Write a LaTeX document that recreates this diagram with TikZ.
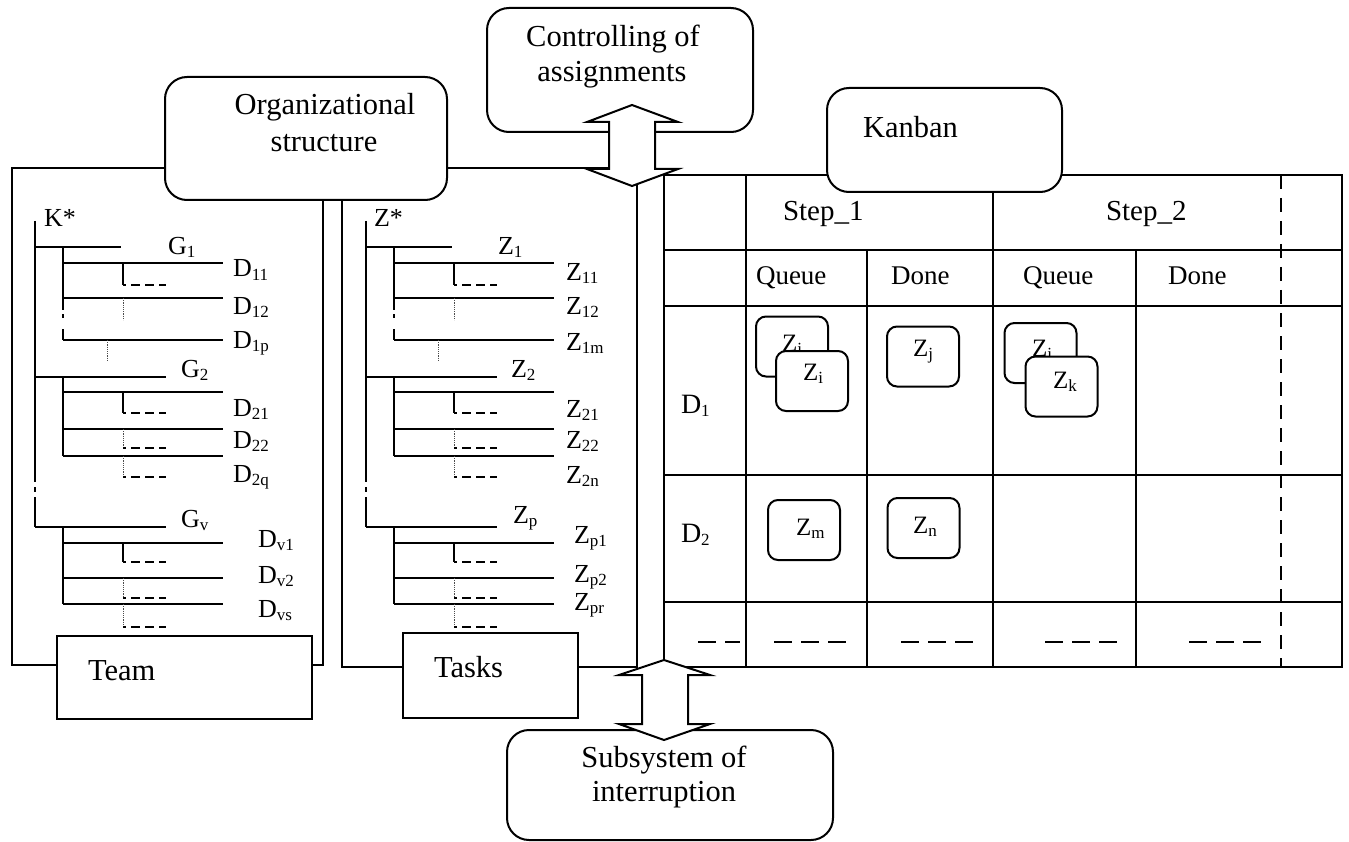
\documentclass[tikz,border=0pt]{standalone}
\usepackage{fontspec}
\setmainfont{Liberation Serif}
\newcommand\fs[1]{\fontsize{#1}{#1}\selectfont}
% subscript used in all labels
\newcommand\sbs[1]{\raisebox{-3pt}{\fontsize{17}{17}\selectfont #1}}
% one hierarchy (team or task tree), shifted horizontally by #1
\newcommand\hiertree[1]{%
\begin{scope}[xshift=#1pt]
  % trunk with an elided stretch
  \draw (35,221) -- (35,482) (35,487) -- (35,492) (35,497) -- (35,527);
  % first-level branches
  \draw (35,247) -- (121,247) (35,377) -- (166,377) (35,527) -- (166,527);
  % group 1
  \draw (63,247) -- (63,310) (63,314) -- (63,318) (63,329) -- (63,340);
  \draw (63,263) -- (223,263) (63,298) -- (223,298) (63,340) -- (223,340);
  \draw (123,263) -- (123,285);
  \draw[elb] (123,285) -- (166,285);
  \draw[dotv] (123,298) -- (123,320);
  \draw[dotv] (107,340) -- (107,360);
  % group 2
  \draw (63,377) -- (63,456);
  \draw (63,392) -- (223,392) (63,429) -- (223,429) (63,456) -- (223,456);
  \draw (123,392) -- (123,413);
  \draw[elb] (123,413) -- (166,413);
  \draw[dotv] (123,429) -- (123,448);
  \draw[elb] (123,448) -- (166,448);
  \draw[dotv] (123,456) -- (123,477);
  \draw[elb] (123,477) -- (166,477);
  % last group
  \draw (63,527) -- (63,604);
  \draw (63,543) -- (223,543) (63,578) -- (223,578) (63,604) -- (223,604);
  \draw (123,543) -- (123,562);
  \draw[elb] (123,562) -- (166,562);
  \draw[dotv] (123,578) -- (123,598);
  \draw[elb] (123,598) -- (166,598);
  \draw[dotv] (123,604) -- (123,627);
  \draw[elb] (123,627) -- (166,627);
\end{scope}}

\begin{document}
\begin{tikzpicture}[x=1pt,y=-1pt,line width=2pt,
  rbox/.style={draw,fill=white,rounded corners=22pt,inner sep=0pt},
  pbox/.style={draw,fill=white,inner sep=0pt},
  card/.style={draw,fill=white,rounded corners=10pt,minimum width=72pt,minimum height=60pt,inner sep=0pt},
  elb/.style={dash pattern=on 3pt off 5pt on 9pt off 5pt on 9pt off 5pt on 10pt},
  dotv/.style={line width=0.9pt,gray!60!black,dash pattern=on 1.2pt off 1pt},
  rowdash/.style={dash pattern=on 18pt off 9pt},
  big/.style={inner sep=0pt,anchor=base,font=\fs{30.5}},
  lbl/.style={inner sep=0pt,anchor=base west,font=\fs{26}},
  cardlbl/.style={inner sep=0pt,anchor=base west,font=\fs{25}},
  head/.style={inner sep=0pt,anchor=base west,font=\fs{29}},
  col/.style={inner sep=0pt,anchor=base west,font=\fs{27}},
  dbig/.style={inner sep=0pt,anchor=base west,font=\fs{28}}]
\useasboundingbox (0,0) rectangle (1349,842);

% frames of the two hierarchies
\draw (12,168) rectangle (323,665);
\draw (342,168) rectangle (637,667);

% Kanban board
\draw (664,175) rectangle (1342,667);
\foreach \yy in {250,306,475,602} \draw (664,\yy) -- (1342,\yy);
\draw (746,175) -- (746,667) (993,175) -- (993,667)
      (867,250) -- (867,667) (1136,250) -- (1136,667);
\draw[line width=1.4pt,dash pattern=on 14pt off 9pt] (1281,175) -- (1281,667);
\draw[rowdash] (698,642) -- (740,642);
\draw[rowdash] (774,642) -- (850,642);
\draw[rowdash,line width=2.6pt] (901,642) -- (977,642);
\draw[rowdash] (1045,642) -- (1120,642);
\draw[rowdash] (1189,642) -- (1265,642);

% trees
\hiertree{0}
\hiertree{331}

% boxes
\node[rbox,minimum width=282pt,minimum height=123pt] (org) at (306,138.5) {};
\node[pbox,minimum width=255pt,minimum height=83pt] (team) at (184.5,677.5) {};
\node[pbox,minimum width=175pt,minimum height=85pt] (tasks) at (490.5,675.5) {};
\node[rbox,minimum width=235pt,minimum height=104pt] (kanban) at (944.5,140) {};
\node[rbox,minimum width=266pt,minimum height=124pt] (ctrl) at (620,70) {};
\node[rbox,minimum width=326pt,minimum height=110pt] (subsys) at (670,785) {};

% two-way arrows
\draw[fill=white] (632,105) -- (678,122) -- (655,122) -- (655,169) -- (678,169)
  -- (632,186) -- (587,169) -- (609,169) -- (609,122) -- (587,122) -- cycle;
\draw[fill=white] (664,660) -- (710,675) -- (688,675) -- (688,724) -- (710,724)
  -- (664,740) -- (619,724) -- (642,724) -- (642,675) -- (619,675) -- cycle;

% box texts
\node[big] (orgt1) at (325,115) {Organizational};
\node[big] (orgt2) at (324,152) {structure};
\node[big] (ctrlt1) at (613,47) {Controlling of};
\node[big] (ctrlt2) at (612,82) {assignments};
\node[big] (subt1) at (664,767) {Subsystem of};
\node[big] (subt2) at (664,801) {interruption};
\node[big,anchor=base west] (kant) at (862,138) {Kanban};
\node[big,anchor=base west] (teamt) at (87,680) {Team};
\node[big,anchor=base west] (taskt) at (433,677) {Tasks};

% team tree labels
\node[lbl] (kroot) at (43,227) {K*};
\node[lbl] (g1) at (167,255) {G\sbs{1}};
\node[lbl] (d11) at (232,277) {D\sbs{11}};
\node[lbl] (d12) at (232,314) {D\sbs{12}};
\node[lbl] (d1p) at (232,348) {D\sbs{1p}};
\node[lbl] (g2) at (180,377) {G\sbs{2}};
\node[lbl] (d21) at (232,416) {D\sbs{21}};
\node[lbl] (d22) at (232,448) {D\sbs{22}};
\node[lbl] (d2q) at (232,482) {D\sbs{2q}};
\node[lbl] (gv) at (180,527) {G\sbs{v}};
\node[lbl] (dv1) at (257,547) {D\sbs{v1}};
\node[lbl] (dv2) at (257,583) {D\sbs{v2}};
\node[lbl] (dvs) at (257,617) {D\sbs{vs}};

% task tree labels
\node[lbl] (zroot) at (373,227) {Z*};
\node[lbl] (z1) at (497,255) {Z\sbs{1}};
\node[lbl] (z11) at (565,280) {Z\sbs{11}};
\node[lbl] (z12) at (565,314) {Z\sbs{12}};
\node[lbl] (z1m) at (565,350) {Z\sbs{1m}};
\node[lbl] (z2) at (510,377) {Z\sbs{2}};
\node[lbl] (z21) at (565,417) {Z\sbs{21}};
\node[lbl] (z22) at (565,448) {Z\sbs{22}};
\node[lbl] (z2n) at (565,483) {Z\sbs{2n}};
\node[lbl] (zp) at (512,523) {Z\sbs{p}};
\node[lbl] (zp1) at (573,543) {Z\sbs{p1}};
\node[lbl] (zp2) at (573,582) {Z\sbs{p2}};
\node[lbl] (zpr) at (573,610) {Z\sbs{pr}};

% board headings
\node[head] (s1) at (782,221) {Step\_1};
\node[head] (s2) at (1105,221) {Step\_2};
\node[col] (q1) at (755,285) {Queue};
\node[col] (dn1) at (890,285) {Done};
\node[col] (q2) at (1022,285) {Queue};
\node[col] (dn2) at (1167,285) {Done};
\node[dbig] (row1) at (680,413) {D\sbs{1}};
\node[dbig] (row2) at (680,542) {D\sbs{2}};

% task cards
\node[card] (zib) at (792,346.5) {};
\node[cardlbl] at (781,351) {Z\sbs{i}};
\node[card] (zif) at (812,381) {};
\node[cardlbl] at (802,380) {Z\sbs{i}};
\node[card] (zj) at (923,356.5) {};
\node[cardlbl] at (912,356) {Z\sbs{j}};
\node[card] (zkb) at (1040.5,353) {};
\node[cardlbl] at (1031,356) {Z\sbs{i}};
\node[card] (zkf) at (1061.5,386.5) {};
\node[cardlbl] at (1052,388) {Z\sbs{k}};
\node[card] (zm) at (804,530) {};
\node[cardlbl] at (795,535) {Z\sbs{m}};
\node[card] (zn) at (923.5,528) {};
\node[cardlbl] at (912,533) {Z\sbs{n}};
\end{tikzpicture}
\end{document}
